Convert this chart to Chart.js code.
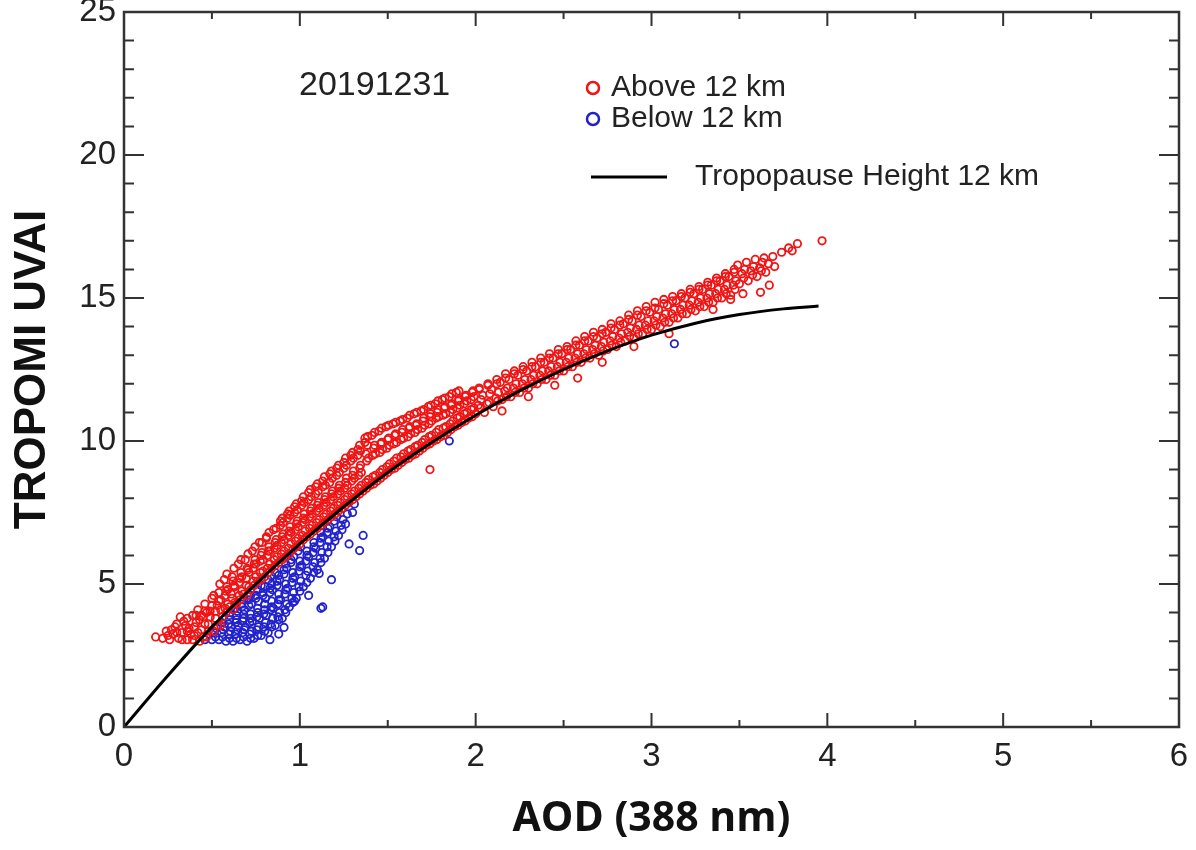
<!DOCTYPE html>
<html>
<head>
<meta charset="utf-8">
<title>TROPOMI UVAI vs AOD</title>
<script src="https://cdn.jsdelivr.net/npm/chart.js@4.4.1/dist/chart.umd.min.js"></script>
<style>
    html, body { margin: 0; padding: 0; background: #ffffff; }
    #wrap { width: 1196px; height: 850px; }
</style>
</head>
<body>
<div id="wrap"><canvas id="uvaiChart" width="1196" height="850"></canvas></div>
<script>
// ---- data (AOD at 388 nm, TROPOMI UVAI) ----
const dateLabel = '20191231';
const xTickValues = [0, 1, 2, 3, 4, 5, 6];
const xMinorTicks = [0.5, 1.5, 2.5, 3.5, 4.5, 5.5];
const yTickValues = [0, 5, 10, 15, 20, 25];
const yMinorTicks = [1, 2, 3, 4, 6, 7, 8, 9, 11, 12, 13, 14, 16, 17, 18, 19, 21, 22, 23, 24];

// Tropopause height 12 km fit line
const curveAod  = [0, 0.25, 0.5, 0.75, 1.0, 1.25, 1.5, 1.75, 2.0, 2.25, 2.5, 2.75, 3.0, 3.25, 3.5, 3.75, 3.95];
const curveUvai = [0, 1.8, 3.5, 5.0, 6.4, 7.7, 8.9, 9.95, 10.9, 11.75, 12.5, 13.15, 13.7, 14.12, 14.42, 14.62, 14.72];

// Above 12 km — low-AOD head of the cloud
const aboveHead = [
    [0.18,3.15],[0.22,3.1],[0.24,3.35],[0.26,3.05],[0.28,3.25],[0.29,3.5],[0.31,3.1],[0.32,3.85],
    [0.33,3.3],[0.34,3.7],[0.35,3.55],[0.36,3.05],[0.37,3.45],[0.38,3.25],[0.39,3.9],[0.40,3.2],
    [0.41,3.65],[0.42,4.1],[0.43,3.0],[0.43,3.75],[0.44,3.4],[0.45,3.85],[0.46,4.3],[0.47,3.15],
    [0.47,4.0],[0.48,3.6],[0.49,4.05],[0.50,4.5],[0.51,3.35],[0.51,4.6],[0.52,3.8],[0.53,4.25],
    [0.54,4.7],[0.55,3.55],
    [0.25,3.2],[0.27,3.4],[0.30,3.3],[0.30,3.6],[0.33,3.05],[0.36,3.35],[0.36,3.8],[0.39,3.05],
    [0.40,3.5],[0.42,3.3],[0.44,3.9],[0.45,3.15],[0.46,3.6],[0.48,3.35],[0.49,3.85],[0.50,4.25],
    [0.52,4.05],[0.53,3.55],[0.55,4.1],[0.54,4.4],[0.46,4.05],[0.41,3.9]
];

// Above 12 km — main band, AOD 0.56 to 2.0
const aboveBand = [
    [0.56,3.85],[0.575,4.15],[0.55,4.45],[0.58,4.75],[0.545,5.0],
    [0.60,4.2],[0.615,4.5],[0.59,4.8],[0.62,5.1],[0.585,5.35],
    [0.64,4.3],[0.655,4.6],[0.63,4.9],[0.66,5.2],[0.625,5.55],
    [0.68,4.65],[0.695,4.95],[0.67,5.25],[0.70,5.55],[0.665,5.85],
    [0.72,4.8],[0.735,5.1],[0.71,5.4],[0.74,5.7],[0.705,6.05],
    [0.76,5.1],[0.775,5.4],[0.75,5.7],[0.78,6.0],[0.745,6.3],
    [0.80,5.25],[0.815,5.55],[0.79,5.85],[0.82,6.15],[0.785,6.45],[0.81,6.65],
    [0.84,5.55],[0.855,5.85],[0.83,6.15],[0.86,6.45],[0.825,6.8],
    [0.88,5.75],[0.895,6.05],[0.87,6.35],[0.90,6.65],[0.865,6.95],[0.89,7.2],
    [0.92,5.95],[0.935,6.25],[0.91,6.55],[0.94,6.85],[0.905,7.15],[0.93,7.45],
    [0.96,6.2],[0.975,6.5],[0.95,6.8],[0.98,7.1],[0.945,7.4],[0.97,7.7],
    [1.00,6.4],[1.015,6.7],[0.99,7.0],[1.02,7.3],[0.985,7.6],[1.01,7.9],
    [1.04,6.65],[1.055,6.95],[1.03,7.25],[1.06,7.55],[1.025,7.85],[1.05,8.2],
    [1.08,6.85],[1.095,7.15],[1.07,7.45],[1.10,7.75],[1.065,8.05],[1.09,8.4],
    [1.12,7.05],[1.135,7.35],[1.11,7.65],[1.14,7.95],[1.105,8.25],[1.13,8.6],
    [1.16,7.25],[1.175,7.55],[1.15,7.85],[1.18,8.15],[1.145,8.45],[1.17,8.85],
    [1.20,7.45],[1.215,7.75],[1.19,8.05],[1.22,8.35],[1.185,8.7],[1.21,9.05],
    [1.24,7.65],[1.255,7.95],[1.23,8.25],[1.26,8.55],[1.225,8.9],[1.25,9.25],
    [1.28,7.85],[1.295,8.15],[1.27,8.45],[1.30,8.8],[1.265,9.15],[1.29,9.5],
    [1.32,8.05],[1.335,8.35],[1.31,8.7],[1.34,9.05],[1.305,9.4],[1.33,9.7],
    [1.36,8.25],[1.375,8.55],[1.35,8.9],[1.38,9.3],[1.345,9.65],[1.37,9.95],
    [1.40,8.45],[1.415,8.75],[1.39,9.4],[1.42,9.75],[1.385,10.15],
    [1.44,8.6],[1.455,8.9],[1.43,9.55],[1.46,9.9],[1.425,10.3],
    [1.48,8.8],[1.495,9.1],[1.47,9.7],[1.50,10.05],[1.465,10.45],
    [1.52,9.0],[1.535,9.3],[1.51,9.85],[1.54,10.2],[1.505,10.55],
    [1.56,9.15],[1.575,9.45],[1.55,9.95],[1.58,10.3],[1.545,10.65],
    [1.60,9.35],[1.615,9.65],[1.59,10.1],[1.62,10.45],[1.585,10.75],
    [1.64,9.5],[1.655,9.8],[1.63,10.25],[1.66,10.55],[1.625,10.9],
    [1.68,9.65],[1.695,9.95],[1.67,10.4],[1.70,10.7],[1.665,11.0],
    [1.72,9.85],[1.735,10.15],[1.71,10.55],[1.74,10.85],[1.705,11.1],
    [1.76,10.0],[1.775,10.3],[1.75,10.7],[1.78,11.0],[1.745,11.25],
    [1.80,10.15],[1.815,10.45],[1.79,10.85],[1.82,11.15],[1.785,11.4],
    [1.84,10.3],[1.855,10.6],[1.83,10.95],[1.86,11.25],[1.825,11.5],
    [1.88,10.5],[1.895,10.8],[1.87,11.1],[1.90,11.4],[1.865,11.65],
    [1.92,10.65],[1.935,10.95],[1.91,11.25],[1.94,11.55],[1.905,11.75],
    [1.96,10.8],[1.975,11.1],[1.95,11.4],[1.98,11.7],
    [2.00,10.95],[2.015,11.25],[1.99,11.55],[2.02,11.85]
];

// Above 12 km — points packed between the rows of the main band
const aboveBandFill = [
    [0.58,4.0],[0.59,4.3],[0.575,4.6],[0.585,4.9],[0.57,5.15],
    [0.62,4.1],[0.63,4.35],[0.61,4.65],[0.625,4.95],[0.615,5.25],
    [0.66,4.45],[0.67,4.75],[0.655,5.05],[0.665,5.4],[0.65,5.7],
    [0.70,4.6],[0.71,4.9],[0.695,5.2],[0.705,5.5],[0.69,5.85],
    [0.74,4.95],[0.75,5.25],[0.735,5.55],[0.745,5.85],[0.73,6.15],
    [0.78,5.15],[0.79,5.45],[0.775,5.8],[0.785,6.1],[0.77,6.45],
    [0.82,5.4],[0.83,5.7],[0.815,6.0],[0.825,6.3],[0.81,6.6],
    [0.86,5.65],[0.87,5.95],[0.855,6.25],[0.865,6.55],[0.85,6.9],
    [0.90,5.85],[0.91,6.15],[0.895,6.45],[0.905,6.75],[0.89,7.05],[0.90,7.3],
    [0.94,6.05],[0.95,6.4],[0.935,6.7],[0.945,7.0],[0.93,7.3],[0.94,7.55],
    [0.98,6.3],[0.99,6.6],[0.975,6.9],[0.985,7.2],[0.97,7.5],[0.98,7.8],
    [1.02,6.55],[1.03,6.85],[1.015,7.15],[1.025,7.45],[1.01,7.75],[1.02,8.05],
    [1.06,6.75],[1.07,7.05],[1.055,7.35],[1.065,7.65],[1.05,7.95],[1.06,8.3],
    [1.10,6.95],[1.11,7.25],[1.095,7.55],[1.105,7.85],[1.09,8.15],[1.10,8.5],
    [1.14,7.15],[1.15,7.45],[1.135,7.75],[1.145,8.05],[1.13,8.4],[1.14,8.75],
    [1.18,7.35],[1.19,7.65],[1.175,7.95],[1.185,8.25],[1.17,8.55],[1.18,8.95],
    [1.22,7.55],[1.23,7.85],[1.215,8.15],[1.225,8.45],[1.21,8.8],[1.22,9.15],
    [1.26,7.75],[1.27,8.05],[1.255,8.35],[1.265,8.7],[1.25,9.05],[1.26,9.4],
    [1.30,7.95],[1.31,8.25],[1.295,8.6],[1.305,8.95],[1.29,9.3],[1.30,9.6],
    [1.34,8.15],[1.35,8.45],[1.335,8.8],[1.345,9.15],[1.33,9.5],[1.34,9.85],
    [1.38,8.35],[1.39,8.65],[1.375,9.55],[1.385,9.85],[1.37,10.1],
    [1.42,8.5],[1.43,8.8],[1.415,9.5],[1.425,9.85],[1.41,10.2],
    [1.46,8.7],[1.47,9.0],[1.455,9.6],[1.465,9.95],[1.45,10.35],
    [1.50,8.9],[1.51,9.2],[1.495,9.75],[1.505,10.1],[1.49,10.5],
    [1.54,9.05],[1.55,9.4],[1.535,9.9],[1.545,10.25],[1.53,10.6],
    [1.58,9.25],[1.59,9.55],[1.575,10.05],[1.585,10.4],[1.57,10.7],
    [1.62,9.4],[1.63,9.7],[1.615,10.15],[1.625,10.5],[1.61,10.8],
    [1.66,9.55],[1.67,9.85],[1.655,10.3],[1.665,10.6],[1.65,10.95],
    [1.70,9.75],[1.71,10.05],[1.695,10.45],[1.705,10.8],[1.69,11.05],
    [1.74,9.9],[1.75,10.2],[1.735,10.6],[1.745,10.95],[1.73,11.2],
    [1.78,10.05],[1.79,10.4],[1.775,10.8],[1.785,11.1],[1.77,11.3],
    [1.82,10.2],[1.83,10.5],[1.815,10.9],[1.825,11.2],[1.81,11.45],
    [1.86,10.4],[1.87,10.7],[1.855,11.0],[1.865,11.3],[1.85,11.55],
    [1.90,10.55],[1.91,10.85],[1.895,11.15],[1.905,11.45],[1.89,11.7],
    [1.94,10.7],[1.95,11.0],[1.935,11.3],[1.945,11.6],
    [1.98,10.85],[1.99,11.15],[1.975,11.45],[1.985,11.75]
];

// Above 12 km — upper band, AOD 2.05 to 4.0
const aboveTail = [
    [2.05,11.0],[2.065,11.3],[2.04,11.6],[2.07,11.95],
    [2.10,11.2],[2.115,11.5],[2.09,11.8],[2.12,12.15],
    [2.15,11.45],[2.165,11.75],[2.14,12.05],[2.17,12.35],
    [2.20,11.55],[2.215,11.85],[2.19,12.15],[2.22,12.45],
    [2.25,11.7],[2.265,12.0],[2.24,12.3],[2.27,12.6],
    [2.30,11.85],[2.315,12.15],[2.29,12.45],[2.32,12.75],
    [2.35,12.0],[2.365,12.3],[2.34,12.6],[2.37,12.9],
    [2.40,12.15],[2.415,12.45],[2.39,12.75],[2.42,13.05],
    [2.45,12.3],[2.465,12.6],[2.44,12.9],[2.47,13.2],
    [2.50,12.45],[2.515,12.75],[2.49,13.05],[2.52,13.3],
    [2.55,12.6],[2.565,12.9],[2.54,13.2],[2.57,13.5],
    [2.60,12.75],[2.615,13.05],[2.59,13.35],[2.62,13.65],
    [2.65,12.9],[2.665,13.2],[2.64,13.5],[2.67,13.8],
    [2.70,13.0],[2.715,13.3],[2.69,13.6],[2.72,13.9],
    [2.75,13.2],[2.765,13.5],[2.74,13.8],[2.77,14.1],
    [2.80,13.3],[2.815,13.6],[2.79,13.9],[2.82,14.2],
    [2.85,13.5],[2.865,13.8],[2.84,14.1],[2.87,14.4],
    [2.90,13.6],[2.915,13.9],[2.89,14.2],[2.92,14.55],
    [2.95,13.75],[2.965,14.05],[2.94,14.35],[2.97,14.7],
    [3.00,13.9],[3.015,14.2],[2.99,14.5],[3.02,14.85],
    [3.05,14.0],[3.065,14.3],[3.04,14.6],[3.07,14.95],
    [3.10,14.15],[3.115,14.45],[3.09,14.75],[3.12,15.05],
    [3.15,14.3],[3.165,14.6],[3.14,14.9],[3.17,15.15],
    [3.20,14.45],[3.215,14.75],[3.19,15.0],[3.22,15.3],
    [3.25,14.55],[3.265,14.85],[3.24,15.15],[3.27,15.4],
    [3.30,14.7],[3.315,15.0],[3.29,15.3],[3.32,15.55],
    [3.35,14.85],[3.365,15.15],[3.34,15.45],[3.37,15.7],
    [3.40,15.0],[3.415,15.3],[3.39,15.6],[3.42,15.85],
    [3.45,15.1],[3.465,15.45],[3.44,15.75],[3.47,16.0],
    [3.50,15.5],[3.515,15.85],[3.49,16.15],
    [3.55,15.6],[3.565,15.95],[3.54,16.25],
    [3.60,15.75],[3.615,16.05],[3.59,16.35],
    [3.65,15.9],[3.665,16.2],[3.64,16.4],
    [3.70,16.1],[3.69,16.45],
    [3.74,16.6],[3.78,16.75],[3.80,16.65],[3.83,16.9],[3.97,17.0],
    [3.67,15.45],[3.62,15.2],[3.45,14.95],[3.52,15.15],[3.35,14.6],
    [2.58,12.2],[2.45,11.95],[2.30,11.55],[2.15,11.05],[1.74,9.0],
    [2.90,13.3],[3.10,13.75],[2.72,12.75]
];

// Above 12 km — points packed between the rows of the upper band
const aboveTailFill = [
    [2.025,11.15],[2.03,11.45],[2.02,11.8],
    [2.075,11.35],[2.08,11.65],[2.07,12.0],
    [2.125,11.4],[2.13,11.7],[2.12,12.0],
    [2.175,11.55],[2.18,11.85],[2.17,12.2],
    [2.225,11.7],[2.23,12.0],[2.22,12.35],
    [2.275,11.85],[2.28,12.15],[2.27,12.5],
    [2.325,12.0],[2.33,12.3],[2.32,12.6],
    [2.375,12.15],[2.38,12.45],[2.37,12.75],
    [2.425,12.3],[2.43,12.6],[2.42,12.9],
    [2.475,12.45],[2.48,12.75],[2.47,13.05],
    [2.525,12.6],[2.53,12.9],[2.52,13.2],
    [2.575,12.75],[2.58,13.05],[2.57,13.35],
    [2.625,12.9],[2.63,13.2],[2.62,13.5],
    [2.675,13.05],[2.68,13.35],[2.67,13.65],
    [2.725,13.15],[2.73,13.45],[2.72,13.75],
    [2.775,13.35],[2.78,13.65],[2.77,13.95],
    [2.825,13.45],[2.83,13.75],[2.82,14.05],
    [2.875,13.65],[2.88,13.95],[2.87,14.25],
    [2.925,13.75],[2.93,14.05],[2.92,14.4],
    [2.975,13.9],[2.98,14.2],[2.97,14.55],
    [3.025,14.05],[3.03,14.35],[3.02,14.65],
    [3.075,14.15],[3.08,14.45],[3.07,14.8],
    [3.125,14.3],[3.13,14.6],[3.12,14.9],
    [3.175,14.45],[3.18,14.75],[3.17,15.05],
    [3.225,14.6],[3.23,14.9],[3.22,15.2],
    [3.275,14.7],[3.28,15.0],[3.27,15.3],
    [3.325,14.85],[3.33,15.15],[3.32,15.45],
    [3.375,15.0],[3.38,15.3],[3.37,15.6],
    [3.425,15.15],[3.43,15.45],[3.42,15.75],
    [3.475,15.3],[3.48,15.6],[3.47,15.9],
    [3.525,15.7],[3.53,16.0],
    [3.575,15.8],[3.58,16.1],
    [3.625,15.95],[3.63,16.25]
];

// Below 12 km
const belowCluster = [
    [0.46,3.05],[0.50,3.05],[0.51,3.3],
    [0.54,3.05],[0.555,3.3],[0.53,3.55],
    [0.58,3.0],[0.595,3.25],[0.57,3.5],[0.60,3.75],
    [0.62,3.0],[0.635,3.25],[0.61,3.5],[0.64,3.75],[0.605,4.0],
    [0.66,3.05],[0.675,3.3],[0.65,3.55],[0.68,3.8],[0.645,4.05],[0.67,4.3],
    [0.70,3.0],[0.715,3.25],[0.69,3.5],[0.72,3.8],[0.685,4.1],[0.71,4.45],
    [0.74,3.1],[0.755,3.4],[0.73,3.7],[0.76,4.0],[0.725,4.3],[0.75,4.6],
    [0.78,3.2],[0.795,3.5],[0.77,3.8],[0.80,4.1],[0.765,4.4],[0.79,4.7],[0.78,4.95],
    [0.82,3.3],[0.835,3.6],[0.81,3.9],[0.84,4.2],[0.805,4.5],[0.83,4.85],[0.82,5.15],
    [0.86,3.55],[0.875,3.85],[0.85,4.15],[0.88,4.45],[0.845,4.8],[0.87,5.1],[0.86,5.4],
    [0.90,3.8],[0.915,4.1],[0.89,4.45],[0.92,4.8],[0.885,5.15],[0.91,5.5],
    [0.94,4.2],[0.955,4.5],[0.93,4.85],[0.96,5.2],[0.925,5.55],[0.95,5.85],
    [0.98,4.5],[0.995,4.9],[0.97,5.25],[1.00,5.6],[0.965,5.95],
    [1.02,4.9],[1.035,5.3],[1.01,5.65],[1.04,6.0],[1.005,6.3],
    [1.06,5.2],[1.075,5.6],[1.05,5.95],[1.08,6.3],
    [1.10,5.5],[1.115,5.9],[1.09,6.25],[1.12,6.6],
    [1.14,5.9],[1.155,6.3],[1.13,6.65],[1.16,6.95],
    [1.18,6.3],[1.195,6.65],[1.17,7.0],
    [1.22,6.7],[1.235,7.05],[1.21,7.35],
    [1.26,7.1],[1.27,7.45],
    [1.30,7.5],[1.31,7.8]
];
const belowFill = [
    [0.52,3.15],[0.525,3.45],
    [0.56,3.15],[0.565,3.4],[0.555,3.65],
    [0.60,3.1],[0.605,3.35],[0.595,3.6],[0.60,3.9],
    [0.64,3.1],[0.645,3.4],[0.635,3.65],[0.64,3.9],[0.63,4.15],
    [0.68,3.15],[0.685,3.4],[0.675,3.7],[0.68,3.95],[0.67,4.2],[0.68,4.45],
    [0.72,3.1],[0.725,3.35],[0.715,3.65],[0.72,3.95],[0.71,4.25],[0.72,4.6],
    [0.76,3.2],[0.765,3.5],[0.755,3.85],[0.76,4.15],[0.75,4.5],[0.76,4.8],
    [0.80,3.35],[0.805,3.65],[0.795,3.95],[0.80,4.3],[0.79,4.6],[0.80,4.9],
    [0.84,3.5],[0.845,3.8],[0.835,4.1],[0.84,4.4],[0.83,4.7],[0.84,5.0],[0.835,5.3],
    [0.88,3.75],[0.885,4.0],[0.875,4.3],[0.88,4.65],[0.87,4.95],[0.88,5.3],
    [0.92,4.0],[0.925,4.3],[0.915,4.65],[0.92,5.0],[0.91,5.35],[0.92,5.7],
    [0.96,4.35],[0.965,4.7],[0.955,5.05],[0.96,5.4],[0.95,5.75],
    [1.00,4.75],[1.005,5.1],[0.995,5.45],[1.00,5.8],[0.99,6.15],
    [1.04,5.05],[1.045,5.45],[1.035,5.8],[1.04,6.15],
    [1.08,5.4],[1.085,5.75],[1.075,6.1],[1.08,6.45],
    [1.12,5.75],[1.125,6.1],[1.115,6.45],[1.12,6.8],
    [1.16,6.1],[1.165,6.5],[1.155,6.8],
    [1.20,6.5],[1.205,6.85],[1.195,7.2],
    [1.24,6.9],[1.245,7.25]
];
const belowOutliers = [
    [0.91,3.48],[0.88,3.25],[0.97,4.4],[1.05,4.6],[1.12,4.15],[1.13,4.2],[1.11,5.37],
    [1.18,5.15],[1.28,6.4],[1.34,6.17],[1.36,6.7],[0.83,3.05],[1.85,10.0],[3.13,13.4]
];

const toXY = pairs => pairs.map(p => ({ x: p[0], y: p[1] }));

const RED = 'rgb(240, 20, 20)';
const BLUE = 'rgb(34, 34, 205)';
const AXIS = '#333333';
const FONT = "'Liberation Sans', Arial, Helvetica, sans-serif";

// inward ticks on all four sides + frame
const frameTicksPlugin = {
    id: 'frameTicks',
    afterDraw(chart) {
        const { ctx, chartArea: a, scales: { x, y } } = chart;
        ctx.save();
        ctx.strokeStyle = AXIS;
        ctx.lineWidth = 2;
        ctx.beginPath();
        const vTick = (v, len) => {
            const px = x.getPixelForValue(v);
            ctx.moveTo(px, a.bottom); ctx.lineTo(px, a.bottom - len);
            ctx.moveTo(px, a.top); ctx.lineTo(px, a.top + len);
        };
        const hTick = (v, len) => {
            const py = y.getPixelForValue(v);
            ctx.moveTo(a.left, py); ctx.lineTo(a.left + len, py);
            ctx.moveTo(a.right, py); ctx.lineTo(a.right - len, py);
        };
        xTickValues.forEach(v => vTick(v, 14));
        xMinorTicks.forEach(v => vTick(v, 7));
        yTickValues.forEach(v => hTick(v, 20));
        yMinorTicks.forEach(v => hTick(v, 10));
        ctx.stroke();
        ctx.lineWidth = 2.5;
        ctx.strokeRect(a.left, a.top, a.right - a.left, a.bottom - a.top);
        ctx.restore();
    }
};

// date stamp and the in-plot legend
const annotationPlugin = {
    id: 'annotations',
    afterDraw(chart) {
        const { ctx } = chart;
        ctx.save();
        ctx.fillStyle = '#222';
        ctx.textBaseline = 'middle';
        ctx.textAlign = 'left';
        ctx.font = `34px ${FONT}`;
        ctx.fillText(dateLabel, 299, 86);

        ctx.lineWidth = 2.5;
        ctx.strokeStyle = RED;
        ctx.beginPath(); ctx.arc(593, 88, 6, 0, Math.PI * 2); ctx.stroke();
        ctx.strokeStyle = BLUE;
        ctx.beginPath(); ctx.arc(593, 119, 6, 0, Math.PI * 2); ctx.stroke();

        ctx.strokeStyle = '#000';
        ctx.lineWidth = 3;
        ctx.beginPath(); ctx.moveTo(591, 177); ctx.lineTo(667, 177); ctx.stroke();

        ctx.font = `30px ${FONT}`;
        ctx.fillText('Above 12 km', 611, 88);
        ctx.fillText('Below 12 km', 611, 119);
        ctx.fillText('Tropopause Height 12 km', 695, 177);
        ctx.restore();
    }
};

const scatterStyle = (color, order) => ({
    type: 'scatter',
    borderColor: color,
    backgroundColor: 'rgba(0,0,0,0)',
    pointStyle: 'circle',
    pointRadius: 3.7,
    pointBorderWidth: 1.8,
    pointHoverRadius: 3.7,
    order
});

new Chart(document.getElementById('uvaiChart'), {
    type: 'scatter',
    data: {
        datasets: [
            {
                type: 'line',
                label: 'Tropopause Height 12 km',
                data: curveAod.map((v, i) => ({ x: v, y: curveUvai[i] })),
                borderColor: '#000000',
                borderWidth: 3,
                pointRadius: 0,
                tension: 0.4,
                cubicInterpolationMode: 'monotone',
                fill: false,
                order: 0
            },
            {
                label: 'Above 12 km',
                data: toXY(aboveHead.concat(aboveBand, aboveBandFill, aboveTail, aboveTailFill)),
                ...scatterStyle(RED, 1)
            },
            {
                label: 'Below 12 km',
                data: toXY(belowCluster.concat(belowFill, belowOutliers)),
                ...scatterStyle(BLUE, 2)
            }
        ]
    },
    options: {
        responsive: false,
        animation: false,
        devicePixelRatio: 1,
        layout: { padding: { top: 12, right: 17, left: 0, bottom: 0 } },
        plugins: {
            legend: { display: false },
            tooltip: { enabled: false }
        },
        scales: {
            x: {
                type: 'linear',
                min: 0,
                max: 6,
                grid: { display: false, drawTicks: false },
                border: { display: false },
                ticks: {
                    stepSize: 1,
                    padding: 10,
                    color: '#222',
                    font: { family: FONT, size: 33 }
                },
                title: {
                    display: true,
                    text: 'AOD (388 nm)',
                    color: '#111',
                    padding: { top: 0, bottom: 6 },
                    font: { family: "'Open Sans', 'Liberation Sans', sans-serif", size: 41, weight: '700' }
                },
                afterFit(scale) {
                    scale.height = 123;
                    scale.paddingLeft = 0;
                    scale.paddingRight = 0;
                }
            },
            y: {
                type: 'linear',
                min: 0,
                max: 25,
                grid: { display: false, drawTicks: false },
                border: { display: false },
                ticks: {
                    stepSize: 5,
                    padding: 8,
                    color: '#222',
                    font: { family: FONT, size: 33 }
                },
                title: {
                    display: true,
                    text: 'TROPOMI UVAI',
                    color: '#111',
                    padding: { top: 6, bottom: 0 },
                    font: { family: FONT, size: 44, weight: '700' }
                },
                afterFit(scale) {
                    scale.width = 124;
                    scale.paddingTop = 0;
                    scale.paddingBottom = 0;
                }
            }
        }
    },
    plugins: [frameTicksPlugin, annotationPlugin]
});
</script>
</body>
</html>
